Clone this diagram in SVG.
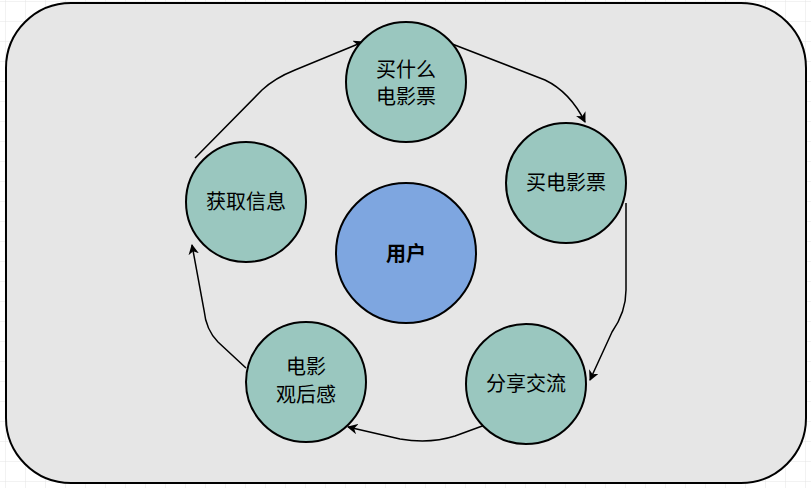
<svg xmlns="http://www.w3.org/2000/svg" width="811" height="488" viewBox="0 0 811 488">
<defs>
<pattern id="g" width="20" height="20" patternUnits="userSpaceOnUse" x="6" y="2"><path d="M20 0V20M0 20H20" fill="none" stroke="#e4e4e4" stroke-width="1"/></pattern>
<marker id="a" viewBox="0 0 10 10" refX="9" refY="5" markerWidth="7" markerHeight="7" orient="auto"><path d="M0 0L10 5L0 10L3 5Z" fill="#000"/></marker>
</defs>
<style>
.n{fill:#9ac7bf;stroke:#000;stroke-width:2}
.t{font-family:"Noto Sans CJK SC",sans-serif;font-size:20px;text-anchor:middle;fill:#000}
.c{fill:none;stroke:#000;stroke-width:1.5;marker-end:url(#a)}
</style>
<rect width="811" height="488" fill="#fff"/>
<rect width="811" height="488" fill="url(#g)"/>
<rect x="6" y="3" width="800" height="480" rx="65" fill="#e6e6e6" stroke="#000" stroke-width="2"/>
<g id="connectors">
<path class="c" d="M195,158 L262,90 Q275,78 295,70 L363,42"/>
<path class="c" d="M447,42 L545,80 Q570,92 585,122"/>
<path class="c" d="M626,203 L626,290 Q626,312 612,332 L590,380"/>
<path class="c" d="M485,425 L455,436 Q430,444 400,439 L348,427"/>
<path class="c" d="M246,368 L218,342 Q206,330 204,310 L192,245"/>
</g>
<g id="n1"><circle class="n" cx="406" cy="82" r="60"/><text class="t" x="406" y="77">买什么</text><text class="t" x="406" y="104">电影票</text></g>
<g id="n2"><circle class="n" cx="566" cy="183" r="60"/><text class="t" x="566" y="190">买电影票</text></g>
<g id="n3"><circle class="n" cx="526" cy="384" r="60"/><text class="t" x="526" y="391">分享交流</text></g>
<g id="n4"><circle class="n" cx="306" cy="382" r="60"/><text class="t" x="306" y="374">电影</text><text class="t" x="306" y="402">观后感</text></g>
<g id="n5"><circle class="n" cx="246" cy="202" r="60"/><text class="t" x="246" y="209">获取信息</text></g>
<g id="user"><circle cx="406" cy="253" r="70" fill="#7ea6e0" stroke="#000" stroke-width="2"/><text class="t" x="406" y="261" font-weight="bold" font-size="22">用户</text></g>
</svg>
